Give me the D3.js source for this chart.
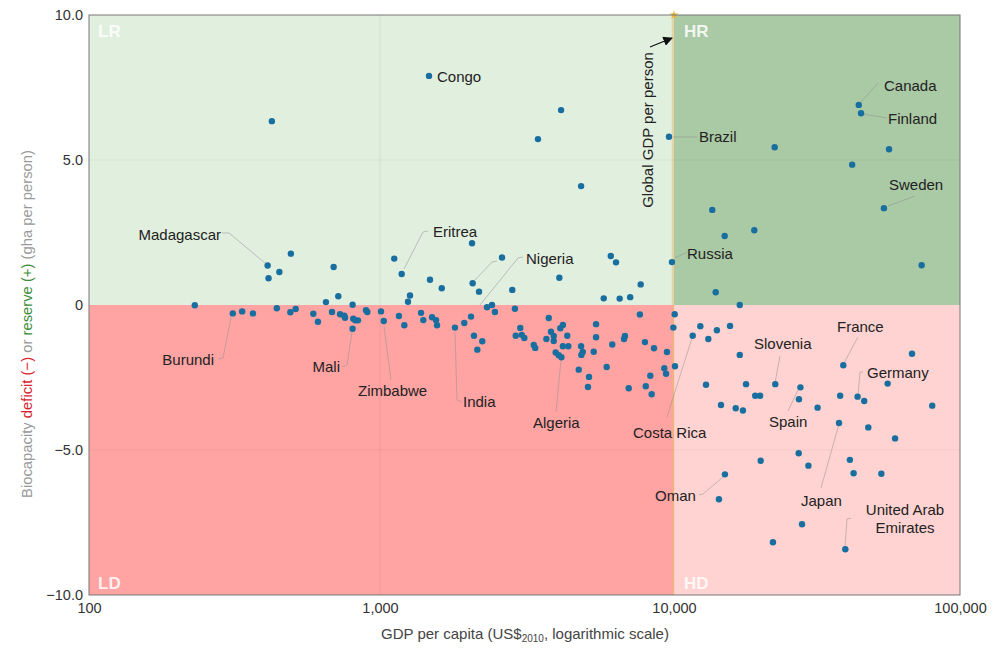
<!DOCTYPE html>
<html>
<head>
<meta charset="utf-8">
<title>Biocapacity and GDP per capita</title>
<script src="https://d3js.org/d3.v7.min.js"></script>
<style>
  html, body { margin: 0; padding: 0; background: #fff; }
  svg { display: block; font-family: "Liberation Sans", Arial, sans-serif; }
  .tick text { font-size: 14.5px; fill: #333; }
  .country { font-size: 15px; fill: #222; }
  .zone { font-size: 17px; font-weight: bold; fill: #fff; fill-opacity: 0.85; }
  .leader { fill: none; stroke: #8f8f8f; stroke-opacity: 0.5; stroke-width: 1; }
</style>
</head>
<body>
<div id="chart"></div>
<script>
// GDP per capita (US$ 2010), left to right
var gdpPerCapita = [
  231, 312, 336, 366, 411, 414, 451, 494, 442, 492, 513, 590, 612, 652, 684, 693, 719, 729, 754, 758,
  805, 809, 822, 840, 805, 895, 905, 425,
  1008, 1030, 1118, 1185, 1265, 1245, 1160, 1210, 1379, 1404, 1468, 1479, 1503, 1551, 1563, 1622, 1799, 1935,
  2040, 2056, 2066, 2172, 2088, 2228, 2143, 2312, 2404, 2460, 2600, 2818, 2877,
  3000, 2895, 3034, 3097, 3334, 3373, 3446, 3750, 3681, 3816, 3899, 3899,
  4074, 4104, 4130, 4188, 4335, 3959, 4055, 4140, 4188, 4371, 4742, 4831, 4831, 4893, 4840,
  5140, 5098, 5333, 5432, 5432, 5768, 5902, 6095, 6350, 6166, 6534, 6761, 6811, 7015, 7096,
  7705, 7656, 7965, 8017, 8307, 8395, 8551, 9268, 9397, 9462, 9616, 9842, 9950,
  10056, 10080, 11625, 12360, 13183, 14125, 15700, 16980, 16980, 12940, 14600, 16440, 17420, 17860, 19230, 20000,
  22600, 27670, 27350, 31770, 38100, 39080, 43850, 46240, 55850, 67950, 79980, 37760, 47790, 59290,
  20100, 27290, 29510, 41210, 42460, 53090, 15070, 14360, 28030, 22180, 39720,
  13990, 13610, 15040, 19090, 22490, 41980, 44260, 45080, 56490, 54200, 73450
];

// biocapacity deficit (-) or reserve (+), gha per person, same order as above
var biocapacity = [
  -0.01, -0.29, -0.22, -0.29, 1.36, 0.92, 1.14, 1.77, -0.11, -0.25, -0.14, -0.30, -0.58, 0.10, -0.24, 1.31, 0.30, -0.32, -0.37, -0.44,
  0.01, -0.47, -0.53, -0.53, -0.82, -0.18, -0.24, 6.34,
  -0.22, -0.55, 1.60, 1.07, 0.33, 0.11, -0.38, -0.70, -0.27, -0.52, 7.90, 0.87, -0.42, -0.52, -0.70, 0.58, -0.78, -0.62,
  -0.40, 2.13, 0.75, 0.46, -1.06, -1.25, -1.54, -0.08, 0.00, -0.24, 1.64, 0.52, -0.13,
  -0.79, -1.06, -1.03, -1.14, -1.38, -1.48, 5.72, -0.45, -1.17, -0.92, -1.07, -1.24,
  0.94, -0.80, 6.72, -0.69, -1.06, -1.64, -1.73, -1.80, -1.42, -1.42, -2.23, -1.42, 4.10, -1.62, -1.72,
  -2.48, -2.83, -1.61, -0.66, -1.11, 0.23, -2.14, 1.69, 1.47, -1.36, 0.22, -1.17, -1.07, -2.87, 0.27,
  0.71, -0.33, -1.28, -2.80, -2.44, -3.08, -1.49, -2.18, -2.37, -1.62, 5.80, 1.48, -0.78,
  -0.32, -2.11, -1.06, -0.73, -1.17, -0.87, -0.72, 0.00, -1.72, -2.75, -3.45, -3.56, -3.64, -2.73, -3.13, -3.13,
  -2.73, -2.84, -3.25, -3.54, -3.13, -2.08, -3.16, -3.31, -2.71, -1.68, -3.47, -4.07, -4.22, -4.60,
  -5.37, -5.11, -5.54, -5.34, -5.80, -5.82, -5.84, -6.70, -7.56, -8.18, -8.42,
  0.44, 3.28, 2.38, 2.58, 5.44, 4.84, 6.90, 6.61, 5.37, 3.34, 1.37
];

var xTicks = [100, 1000, 10000, 100000];
var yTicks = [-10, -5, 0, 5, 10];
var globalGdp = 10000;

var width = 1000, height = 649;
var plot = { left: 89, right: 960, top: 15, bottom: 595 };

var svg = d3.select("#chart").append("svg")
  .attr("width", width)
  .attr("height", height);

// the decades are not quite even in the original, so the scale is piecewise
var x = d3.scaleLog().domain(xTicks).range([plot.left, 380, 674, plot.right]);
var y = d3.scaleLinear().domain([-10, 10]).range([plot.bottom, plot.top]);

// quadrant backgrounds
var zones = [
  { name: "LR", x0: 100, x1: globalGdp, y0: 10, y1: 0, fill: "#e1efdf", lx: 98, ly: 37 },
  { name: "HR", x0: globalGdp, x1: 100000, y0: 10, y1: 0, fill: "#aac9a5", lx: 684, ly: 37 },
  { name: "LD", x0: 100, x1: globalGdp, y0: 0, y1: -10, fill: "#ffa3a3", lx: 98, ly: 589 },
  { name: "HD", x0: globalGdp, x1: 100000, y0: 0, y1: -10, fill: "#ffd3d1", lx: 684, ly: 589 }
];

svg.selectAll("rect.bg").data(zones).enter().append("rect")
  .attr("class", "bg")
  .attr("x", function(d) { return x(d.x0); })
  .attr("y", function(d) { return y(d.y0); })
  .attr("width", function(d) { return x(d.x1) - x(d.x0); })
  .attr("height", function(d) { return y(d.y1) - y(d.y0); })
  .attr("fill", function(d) { return d.fill; });

// faint grid
svg.append("line")
  .attr("x1", x(1000)).attr("x2", x(1000))
  .attr("y1", plot.top).attr("y2", plot.bottom)
  .attr("stroke", "#000").attr("stroke-opacity", 0.06);

svg.selectAll("line.grid").data([-5, 5]).enter().append("line")
  .attr("class", "grid")
  .attr("x1", plot.left).attr("x2", plot.right)
  .attr("y1", function(d) { return y(d); })
  .attr("y2", function(d) { return y(d); })
  .attr("stroke", "#000").attr("stroke-opacity", 0.05);

// global GDP marker
svg.append("line")
  .attr("x1", x(globalGdp) - 1).attr("x2", x(globalGdp) - 1)
  .attr("y1", plot.top).attr("y2", plot.bottom)
  .attr("stroke", "#e9b96e").attr("stroke-opacity", 0.5).attr("stroke-width", 2.5);

svg.append("path")
  .attr("d", d3.symbol().type(d3.symbolStar).size(26))
  .attr("transform", "translate(" + x(globalGdp) + "," + plot.top + ")")
  .attr("fill", "#e8b83a");

// frame
svg.append("rect")
  .attr("x", plot.left).attr("y", plot.top)
  .attr("width", plot.right - plot.left).attr("height", plot.bottom - plot.top)
  .attr("fill", "none").attr("stroke", "#777").attr("stroke-width", 1);

svg.selectAll("text.zone").data(zones).enter().append("text")
  .attr("class", "zone")
  .attr("x", function(d) { return d.lx; })
  .attr("y", function(d) { return d.ly; })
  .text(function(d) { return d.name; });

// axes
var xAxis = d3.axisBottom(x).tickValues(xTicks).tickSize(0).tickPadding(8)
  .tickFormat(d3.format(","));
var yAxis = d3.axisLeft(y).tickValues(yTicks).tickSize(0).tickPadding(6)
  .tickFormat(function(d) { return d === 0 ? "0" : d3.format(".1f")(d).replace("-", "\u2212"); });

svg.append("g").attr("transform", "translate(0," + plot.bottom + ")").call(xAxis)
  .call(function(g) { g.select(".domain").remove(); });
svg.append("g").attr("transform", "translate(" + plot.left + ",0)").call(yAxis)
  .call(function(g) { g.select(".domain").remove(); });

var xTitle = svg.append("text")
  .attr("x", 525).attr("y", 639)
  .attr("text-anchor", "middle")
  .attr("font-size", 15).attr("fill", "#444");
xTitle.append("tspan").text("GDP per capita (US$");
xTitle.append("tspan").attr("font-size", 10).attr("dy", 3).text("2010");
xTitle.append("tspan").attr("dy", -3).text(", logarithmic scale)");

var yTitle = svg.append("text")
  .attr("transform", "translate(32,324) rotate(-90)")
  .attr("text-anchor", "middle")
  .attr("font-size", 14.8).attr("fill", "#999");
yTitle.append("tspan").text("Biocapacity ");
yTitle.append("tspan").attr("fill", "#d8232f").text("deficit (\u2212)");
yTitle.append("tspan").text(" or ");
yTitle.append("tspan").attr("fill", "#3d8c3a").text("reserve (+)");
yTitle.append("tspan").text(" (gha per person)");

// country labels and their leader lines
var labels = [
  { text: "Congo", x: 437, y: 82, anchor: "start", leader: [] },
  { text: "Madagascar", x: 221, y: 240, anchor: "end", leader: [[222, 233], [229, 233], [265, 263]] },
  { text: "Burundi", x: 214, y: 365, anchor: "end", leader: [[218, 359], [223, 358], [231, 318]] },
  { text: "Mali", x: 340, y: 372, anchor: "end", leader: [[342, 367], [347, 365], [352, 332]] },
  { text: "Zimbabwe", x: 358, y: 396, anchor: "start", leader: [[384, 327], [391, 380]] },
  { text: "India", x: 463, y: 407, anchor: "start", leader: [[455, 332], [457, 400], [462, 402]] },
  { text: "Algeria", x: 533, y: 428, anchor: "start", leader: [[561, 360], [556, 412]] },
  { text: "Eritrea", x: 433, y: 237, anchor: "start", leader: [[428, 231], [423, 232], [404, 269]] },
  { text: "Nigeria", x: 526, y: 264, anchor: "start", leader: [[523, 257], [518, 258], [480, 305]] },
  { text: "Costa Rica", x: 633, y: 438, anchor: "start", leader: [[692, 338], [667, 417]] },
  { text: "Russia", x: 687, y: 259, anchor: "start", leader: [[675, 258], [687, 252]] },
  { text: "Brazil", x: 699, y: 142, anchor: "start", leader: [[673, 137], [697, 137]] },
  { text: "Canada", x: 884, y: 91, anchor: "start", leader: [[878, 83], [861, 102]] },
  { text: "Finland", x: 888, y: 124, anchor: "start", leader: [[887, 118], [863, 114]] },
  { text: "Sweden", x: 889, y: 190, anchor: "start", leader: [[915, 196], [888, 206]] },
  { text: "France", x: 837, y: 332, anchor: "start", leader: [[858, 337], [844, 363]] },
  { text: "Slovenia", x: 754, y: 349, anchor: "start", leader: [[780, 356], [775, 383]] },
  { text: "Germany", x: 867, y: 378, anchor: "start", leader: [[863, 372], [860, 372], [858, 396]] },
  { text: "Spain", x: 769, y: 427, anchor: "start", leader: [[798, 390], [788, 411]] },
  { text: "Japan", x: 801, y: 506, anchor: "start", leader: [[839, 424], [821, 488]] },
  { text: "Oman", x: 655, y: 501, anchor: "start", leader: [[699, 495], [703, 494], [723, 477]] },
  { text: "United Arab", x: 905, y: 515, anchor: "middle", leader: [[851, 518], [847, 519], [845, 547]] },
  { text: "Emirates", x: 905, y: 533, anchor: "middle", leader: [] }
];
// one more unnamed leader in the original, running into the Eritrea/Nigeria cluster
var extraLeaders = [[[497, 261], [492, 262], [475, 280]]];

var line = d3.line();

svg.selectAll("path.leader")
  .data(labels.map(function(d) { return d.leader; }).concat(extraLeaders).filter(function(d) { return d.length; }))
  .enter().append("path")
  .attr("class", "leader")
  .attr("d", line);

// the points
svg.selectAll("circle.country-dot")
  .data(d3.zip(gdpPerCapita, biocapacity))
  .enter().append("circle")
  .attr("class", "country-dot")
  .attr("cx", function(d) { return x(d[0]); })
  .attr("cy", function(d) { return y(d[1]); })
  .attr("r", 3.2)
  .attr("fill", "#186f9f");

svg.selectAll("text.country").data(labels).enter().append("text")
  .attr("class", "country")
  .attr("x", function(d) { return d.x; })
  .attr("y", function(d) { return d.y; })
  .attr("text-anchor", function(d) { return d.anchor; })
  .text(function(d) { return d.text; });

// global GDP note with its arrow
svg.append("text")
  .attr("transform", "translate(653,130) rotate(-90)")
  .attr("text-anchor", "middle")
  .attr("font-size", 15).attr("fill", "#222")
  .text("Global GDP per person");

svg.append("defs").append("marker")
  .attr("id", "arrowhead")
  .attr("viewBox", "0 0 10 10")
  .attr("refX", 9).attr("refY", 5)
  .attr("markerWidth", 8).attr("markerHeight", 8)
  .attr("orient", "auto")
  .append("path").attr("d", "M0,0L10,5L0,10z").attr("fill", "#111");

svg.append("line")
  .attr("x1", 650).attr("y1", 47)
  .attr("x2", 672).attr("y2", 38)
  .attr("stroke", "#111").attr("stroke-width", 1.2)
  .attr("marker-end", "url(#arrowhead)");
</script>
</body>
</html>
